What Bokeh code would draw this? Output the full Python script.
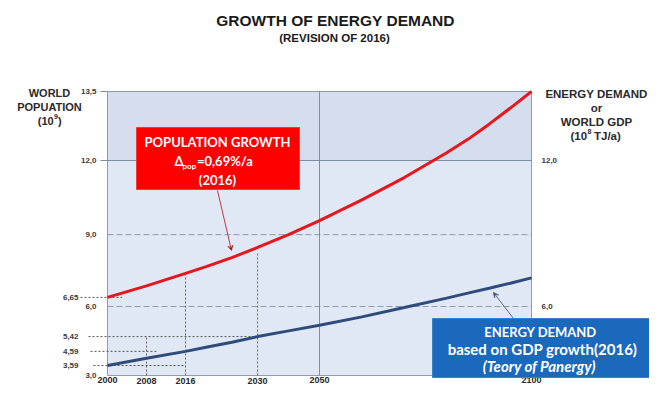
import numpy as np
from bokeh.plotting import figure
from bokeh.models import Range1d, Arrow, VeeHead
from bokeh.core.properties import value
from bokeh.embed import file_html
from bokeh.resources import INLINE

# ---------------- data ----------------
years = [2000, 2008, 2016, 2020, 2025, 2030, 2040, 2050, 2060, 2070, 2080, 2085, 2090, 2095, 2100]
world_population = [6.65, 7.08, 7.55, 7.80, 8.14, 8.52, 9.00, 9.57, 10.41, 11.31, 12.17, 12.46, 12.79, 13.14, 13.5]
energy_demand = [3.59, 4.10, 4.59, 4.82, 5.10, 5.42, 5.53, 5.64, 5.80, 5.98, 6.60, 6.81, 6.99, 7.18, 7.38]

# tick labels
y_ticks = [3.0, 6.0, 9.0, 12.0, 13.5]
y_tick_labels = ["3,0", "6,0", "9,0", "12,0", "13,5"]
right_ticks = [6.0, 12.0]
right_tick_labels = ["6,0", "12,0"]
marked_values = [6.65, 5.42, 4.59, 3.59]
marked_labels = ["6,65", "5,42", "4,59", "3,59"]
marked_until = [2003, 2030, 2010, 2016]      # year where each dotted guide ends
x_ticks_upper = [2000, 2050, 2100]
x_ticks_lower = [2008, 2016, 2030]
marked_years = [2008, 2016, 2030]
marked_years_top = [5.42, 7.55, 8.35]          # value where each dotted guide ends

# ---------------- the picture's (non-uniform) axes ----------------
X_KNOTS = [2000, 2008, 2016, 2030, 2050, 2100]
X_FRAC = [0.0, 0.092, 0.184, 0.354, 0.5, 1.0]
Y_KNOTS = [3.0, 3.59, 4.59, 5.42, 6.0, 6.65, 9.0, 12.0, 13.5]
Y_FRAC = [0.0, 0.035, 0.085, 0.137, 0.243, 0.275, 0.496, 0.757, 1.0]


def X(v):
    return np.interp(v, X_KNOTS, X_FRAC)


def Y(v):
    return np.interp(v, Y_KNOTS, Y_FRAC)


# layout helpers (pixel -> axis fraction)
L, R, T, B = 107, 531, 91, 375
W, H = 649, 386


def fx(px):
    return (px - L) / (R - L)


def fy(py):
    return (B - py) / (B - T)


p = figure(width=W, height=H,
           x_range=Range1d(fx(0), fx(W)), y_range=Range1d(fy(H), fy(0)),
           output_backend="svg", toolbar_location=None,
           x_axis_type=None, y_axis_type=None, min_border=0,
           outline_line_color=None, background_fill_color="white",
           border_fill_color="white")

# plot area
p.quad(left=[0, 0], right=[1, 1], bottom=[0, float(Y(12))], top=[float(Y(12)), 1],
       fill_color=["#dfe8f4", "#d5deef"], line_color=None)
p.quad(left=[0], right=[1], bottom=[0], top=[1], fill_color=None,
       line_color="#8e9db4", line_width=1)

# grid
for g in [6.0, 9.0]:
    p.segment(x0=[0], y0=[float(Y(g))], x1=[1], y1=[float(Y(g))],
              line_color="#9099a9", line_width=1, line_dash="6 3")
p.segment(x0=[fx(100), fx(100)], y0=[float(Y(12)), 1.0], x1=[1, 0], y1=[float(Y(12)), 1.0],
          line_color="#7f8da3", line_width=1)
p.segment(x0=[float(X(2050))], y0=[0], x1=[float(X(2050))], y1=[1],
          line_color="#7f8da3", line_width=1)

# dotted guides
p.segment(x0=[fx(80), fx(88), fx(90), fx(93)], y0=list(Y(marked_values)),
          x1=list(X(marked_until)), y1=list(Y(marked_values)),
          line_color="#555555", line_width=1, line_dash="2 2")
p.segment(x0=list(X(marked_years)), y0=[0.0] * 3,
          x1=list(X(marked_years)), y1=list(Y(marked_years_top)),
          line_color="#666666", line_width=1, line_dash="2 2")

# curves
p.line(X(years), Y(world_population), line_color="#e8161c", line_width=3)
p.line(X(years), Y(energy_demand), line_color="#2f4b7c", line_width=3)

AR = value("Liberation Sans")
LA = value("Lato")


def txt(px, py, s, size, align="center", font=AR, style="bold", color="#2a2a2a",
        baseline="middle"):
    p.text(x=[fx(px)], y=[fy(py)], text=[s], text_font=font, text_font_style=style,
           text_font_size=size, text_align=align, text_baseline=baseline,
           text_color=color)


# titles
txt(335, 20, "GROWTH OF ENERGY DEMAND", "15.5px", color="#1a1a1a")
txt(334, 37, "(REVISION OF 2016)", "11.5px", color="#1a1a1a")

# axis titles
txt(49, 92, "WORLD", "11px")
txt(49, 106, "POPUATION", "11px")
txt(53.2, 120, "(10", "11px", align="right")
txt(53.4, 116, "9", "7px", align="left")
txt(57.4, 120, ")", "11px", align="left")

txt(596, 93, "ENERGY DEMAND", "11.5px")
txt(596, 107, "or", "11.5px")
txt(596, 121, "WORLD GDP", "11.5px")
txt(586.6, 135, "(10", "11.5px", align="right")
txt(586.9, 131, "8", "7px", align="left")
txt(593.5, 135, "TJ/a)", "11.5px", align="left")

# tick labels
p.text(x=[fx(96)] * len(y_ticks), y=list(Y(y_ticks)), text=y_tick_labels, text_font=AR,
       text_font_style="bold", text_font_size="8px", text_align="right",
       text_baseline="middle", text_color="#3a3a3a")
p.text(x=[fx(78)] * len(marked_values), y=list(Y(marked_values)), text=marked_labels,
       text_font=AR, text_font_style="bold", text_font_size="8px", text_align="right",
       text_baseline="middle", text_color="#3a3a3a")
p.text(x=[fx(541)] * len(right_ticks), y=list(Y(right_ticks)), text=right_tick_labels,
       text_font=AR, text_font_style="bold", text_font_size="8px", text_align="left",
       text_baseline="middle", text_color="#3a3a3a")
p.text(x=list(X(x_ticks_upper)), y=[fy(382)] * 3, text=[str(v) for v in x_ticks_upper],
       text_font=AR, text_font_style="bold", text_font_size="9px", text_align="center",
       text_baseline="bottom", text_color="#2a2a2a")
p.text(x=list(X(x_ticks_lower)), y=[fy(383.5)] * 3, text=[str(v) for v in x_ticks_lower],
       text_font=AR, text_font_style="bold", text_font_size="9px", text_align="center",
       text_baseline="bottom", text_color="#2a2a2a")

# population call-out
p.quad(left=[fx(136)], right=[fx(299)], bottom=[fy(189)], top=[fy(127)],
       fill_color="#ff0000", line_color="#f03a3a", line_width=1)
txt(217, 141, "POPULATION GROWTH", "13px", font=LA, color="white")
txt(217, 179, "(2016)", "13px", font=LA, color="white")
txt(174, 160, "Δ", "13px", align="left", font=LA, color="white")
txt(182, 165, "pop", "8px", align="left", font=LA, color="white")
txt(196.5, 160, "=0,69%/a", "13px", align="left", font=LA, color="white")
p.add_layout(Arrow(end=VeeHead(size=5, line_color="#c23a3a", line_width=1),
                   x_start=fx(217), y_start=fy(190), x_end=fx(231), y_end=fy(250),
                   line_color="#c23a3a", line_width=1))

# energy call-out
p.quad(left=[fx(432)], right=[fx(662)], bottom=[fy(377)], top=[fy(318)],
       fill_color="#1b69bd", line_color="#3a7fc8", line_width=1)
txt(540, 331, "ENERGY DEMAND", "13px", font=LA, color="white")
txt(542, 348, "based on GDP growth(2016)", "15px", font=LA, color="white")
txt(539, 365.5, "(Teory of Panergy)", "15px", font=LA, style="bold italic", color="white")
p.add_layout(Arrow(end=VeeHead(size=5, line_color="#5a6f8f", line_width=1),
                   x_start=fx(513), y_start=fy(318), x_end=fx(493), y_end=fy(292),
                   line_color="#5a6f8f", line_width=1))

open("out.html", "w").write(file_html(p, INLINE))
